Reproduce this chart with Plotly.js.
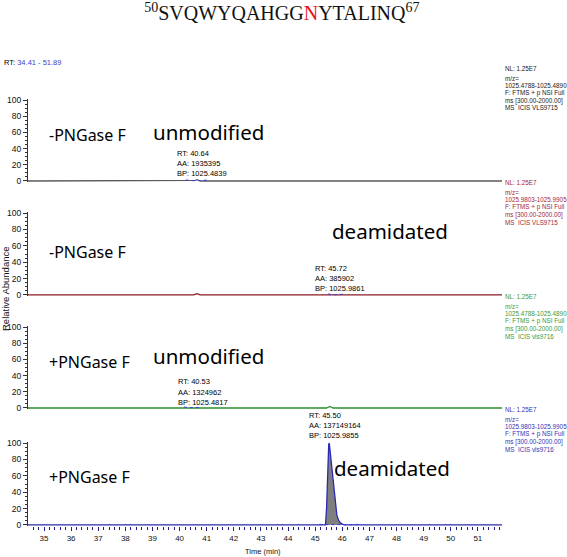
<!DOCTYPE html>
<html>
<head>
<meta charset="utf-8">
<script src="https://cdn.plot.ly/plotly-3.0.1.min.js"></script>
<style>html,body{margin:0;padding:0;background:#fff;}#chart{width:567px;height:557px;}</style>
</head>
<body>
<div id="chart"></div>
<script>
// ---------- data ----------
const xTickVals = [35,36,37,38,39,40,41,42,43,44,45,46,47,48,49,50,51];
const yTickVals = [0,20,40,60,80,100];
const rtRange = [34.41, 51.89];

// panel 1: -PNGase F, unmodified
const time1 = [34.41, 40.50, 40.58, 40.64, 40.70, 40.78, 51.89];
const abund1 = [0, 0, 0.8, 1.6, 0.8, 0, 0];
const mark1Time = [40.23, 40.45, 40.80, 41.00];
const mark1Val = [1.2, 0.4, 0.4, 1.2];

// panel 2: -PNGase F, deamidated
const time2 = [34.41, 40.52, 40.64, 40.76, 51.89];
const abund2 = [0, 0, 1.6, 0, 0];
const mark2Time = [45.47, 45.65, 45.90, 46.09];
const mark2Val = [1.2, 0.4, 0.4, 1.2];

// panel 3: +PNGase F, unmodified
const time3 = [34.41, 45.42, 45.54, 45.66, 51.89];
const abund3 = [0, 0, 1.8, 0, 0];
const mark3Time = [40.16, 40.35, 40.65, 40.82];
const mark3Val = [1.2, 0.4, 0.4, 1.2];

// panel 4: +PNGase F, deamidated
const time4 = [34.41, 45.38, 45.42, 45.46, 45.50, 45.52, 45.56, 45.60, 45.64, 45.68, 45.72, 45.76, 45.80, 45.86, 45.92, 46.00, 46.08, 51.89];
const abund4 = [0, 0, 20, 70, 98, 100, 88, 76, 62, 49, 36, 22, 12, 6, 3, 1, 0, 0];
const mark4Time = [45.16, 45.40, 46.10, 46.70];
const mark4Val = [0.8, 0.4, 0.4, 0.8];

const panelLabels = ['-PNGase F', '-PNGase F', '+PNGase F', '+PNGase F'];
const formLabels = ['unmodified', 'deamidated', 'unmodified', 'deamidated'];
const rtText = ['RT: 40.64', 'RT: 45.72', 'RT: 40.53', 'RT: 45.50'];
const aaText = ['AA: 1935395', 'AA: 385902', 'AA: 1324962', 'AA: 137149164'];
const bpText = ['BP: 1025.4839', 'BP: 1025.9861', 'BP: 1025.4817', 'BP: 1025.9855'];
const nlText = ['NL: 1.25E7', 'NL: 1.25E7', 'NL: 1.25E7', 'NL: 1.25E7'];
const mzRange = ['1025.4788-1025.4890', '1025.9803-1025.9905', '1025.4788-1025.4890', '1025.9803-1025.9905'];
const filterText = ['F: FTMS + p NSI Full', 'F: FTMS + p NSI Full', 'F: FTMS + p NSI Full', 'F: FTMS + p NSI Full'];
const msText = ['ms [300.00-2000.00]', 'ms [300.00-2000.00]', 'ms [300.00-2000.00]', 'ms [300.00-2000.00]'];
const fileText = ['MS  ICIS VLS9715', 'MS  ICIS VLS9715', 'MS  ICIS vls9716', 'MS  ICIS vls9716'];

// ---------- styling ----------
const W = 567, H = 557;
const px = x => x / W;
const py = y => 1 - y / H;
const narrow = 'Liberation Sans, Arial, sans-serif';
const sans = 'Noto Sans, Open Sans, sans-serif';
const textColors = ['#1a1a1a', '#a0283a', '#3a9a3a', '#3434b4'];
const lineColors = ['#5a5a5a', '#8b1c24', '#2f8f2f', '#1e1e86'];
const markBlue = '#3a3ad8';

// panel order top->bottom: yaxis4, yaxis3, yaxis2, yaxis
const yRefs = ['y4', 'y3', 'y2', 'y'];
const blockTop = [68, 182, 296, 409];   // pixel row of NL line
const labelY = [135, 252, 362, 477];
const formPos = [[151, 132], [330, 231], [151, 356], [332, 468]];
const rtPos = [[175, 153], [313, 268], [176, 382], [307, 415]];

const traces = [];
const times = [time1, time2, time3, time4];
const abunds = [abund1, abund2, abund3, abund4];
const markT = [mark1Time, mark2Time, mark3Time, mark4Time];
const markV = [mark1Val, mark2Val, mark3Val, mark4Val];
for (let i = 0; i < 4; i++) {
  const tr = {
    x: times[i], y: abunds[i], xaxis: 'x', yaxis: yRefs[i],
    type: 'scatter', mode: 'lines',
    line: {color: lineColors[i], width: 1.3}, hoverinfo: 'skip'
  };
  if (i === 3) { tr.fill = 'tozeroy'; tr.fillcolor = '#7f7f7f'; tr.line = {color: '#2a2ab0', width: 1.3}; }
  traces.push(tr);
  traces.push({
    x: markT[i], y: markV[i], xaxis: 'x', yaxis: yRefs[i],
    type: 'scatter', mode: 'lines', line: {color: markBlue, width: 1, dash: 'dot'}, hoverinfo: 'skip'
  });
}

function yAxis(domain) {
  return {
    domain: domain, range: [-1.5, 101], anchor: 'x',
    tickvals: yTickVals, ticks: 'outside', ticklen: 4, tickcolor: '#333', tickwidth: 1,
    showline: true, linecolor: '#333', linewidth: 1, zeroline: false, showgrid: false,
    tickfont: {family: narrow, size: 8.5, color: '#111'},
    minor: {dtick: 5, ticks: 'outside', ticklen: 2, tickcolor: '#333'},
    fixedrange: true
  };
}

const ann = [];
function addText(t, x, y, size, color, family, anchor) {
  ann.push({text: t, x: px(x), y: py(y), xref: 'paper', yref: 'paper', showarrow: false,
    xanchor: anchor || 'left', yanchor: 'middle', font: {size: size, color: color, family: family}});
}
for (let i = 0; i < 4; i++) {
  addText(panelLabels[i], 47, labelY[i], 16, '#000', sans);
  addText(formLabels[i], formPos[i][0], formPos[i][1], 20.5, '#000', sans);
  addText(rtText[i], rtPos[i][0], rtPos[i][1], 7.5, '#000', narrow);
  addText(aaText[i], rtPos[i][0], rtPos[i][1] + 10, 7.5, '#000', narrow);
  addText(bpText[i], rtPos[i][0], rtPos[i][1] + 20, 7.5, '#000', narrow);
  const b = blockTop[i];
  addText(nlText[i], 503, b, 6.3, textColors[i], narrow);
  addText('m/z=', 503, b + 10, 6.3, textColors[i], narrow);
  addText(mzRange[i], 503, b + 17.5, 6.3, textColors[i], narrow);
  addText(filterText[i], 503, b + 25, 6.3, textColors[i], narrow);
  addText(msText[i], 503, b + 32.5, 6.3, textColors[i], narrow);
  addText(fileText[i], 503, b + 40, 6.3, textColors[i], narrow);
}
addText('RT: <span style="color:#3c3cc8">' + rtRange[0].toFixed(2) + ' - ' + rtRange[1].toFixed(2) + '</span>', 2, 62, 7.5, '#000', narrow);
ann.push({text: 'Relative Abundance', x: px(6), y: py(289), xref: 'paper', yref: 'paper', showarrow: false,
  textangle: -90, xanchor: 'center', yanchor: 'middle', font: {size: 9.5, color: '#111', family: 'Liberation Sans, sans-serif'}});
addText('Time (min)', 263, 551, 7.5, '#111', narrow, 'center');

const layout = {
  width: W, height: H,
  margin: {l: 0, r: 0, t: 0, b: 0, pad: 0},
  paper_bgcolor: '#fff', plot_bgcolor: '#fff',
  showlegend: false,
  title: {
    text: '<sup>50</sup>SVQWYQAHGG<span style="color:#e8141c">N</span>YTALINQ<sup>67</sup>',
    x: 0.497, xanchor: 'center', y: py(13), yanchor: 'middle',
    font: {family: 'Liberation Serif, Times New Roman, serif', size: 20, color: '#111'}
  },
  xaxis: {
    domain: [px(28), px(502)], range: rtRange, anchor: 'y',
    tickvals: xTickVals, ticks: 'outside', ticklen: 4, tickcolor: '#1e1e86', tickwidth: 1,
    showline: false, zeroline: false, showgrid: false,
    tickfont: {family: narrow, size: 8, color: '#111'},
    minor: {dtick: 0.2, tick0: 35, ticks: 'outside', ticklen: 3, tickcolor: '#1e1e86'},
    fixedrange: true
  },
  yaxis: yAxis([py(526.2), py(442.2)]),
  yaxis2: yAxis([py(409.2), py(326.2)]),
  yaxis3: yAxis([py(296.2), py(212.2)]),
  yaxis4: yAxis([py(182.2), py(99.2)]),
  annotations: ann
};

Plotly.newPlot('chart', traces, layout, {displayModeBar: false, staticPlot: true});
</script>
</body>
</html>
